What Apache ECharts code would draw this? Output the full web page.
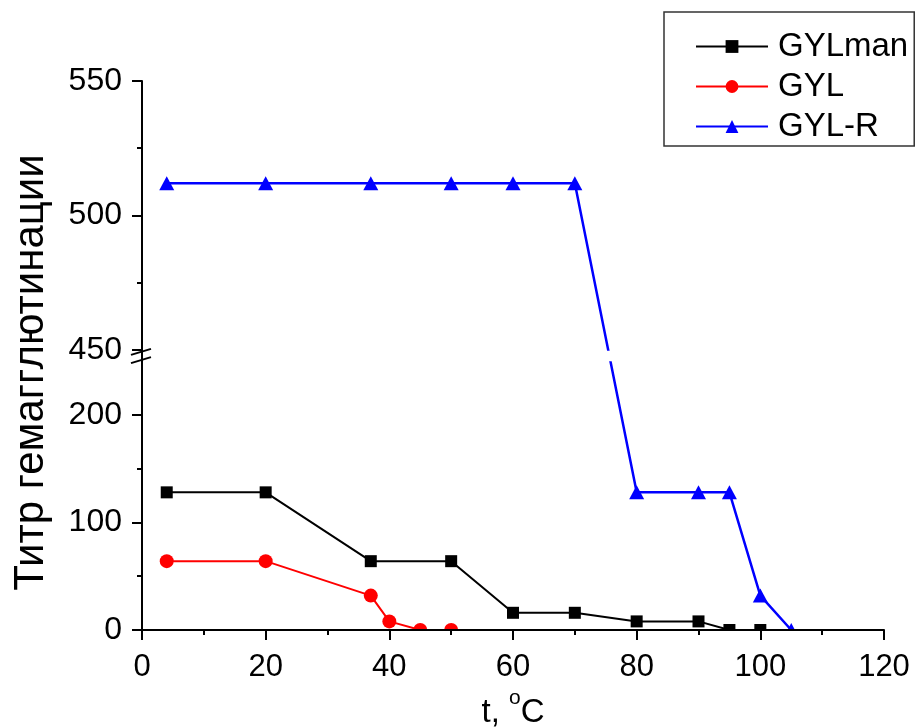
<!DOCTYPE html>
<html>
<head>
<meta charset="utf-8">
<script src="https://cdn.jsdelivr.net/npm/echarts@6/dist/echarts.min.js"></script>
<style>
html, body { margin: 0; padding: 0; background: #fff; }
#chart { width: 915px; height: 728px; }
</style>
</head>
<body>
<div id="chart"></div>
<script>
// Temperature (°C) and haemagglutination titre for each preparation
const gylmanTemp  = [4, 20, 37, 50, 60, 70, 80, 90, 95, 100];
const gylmanTiter = [128, 128, 64, 64, 16, 16, 8, 8, 0, 0];

const gylTemp  = [4, 20, 37, 40, 45, 50];
const gylTiter = [64, 64, 32, 8, 0, 0];

const gylrTemp  = [4, 20, 37, 50, 60, 70, 80, 90, 95, 100, 105];
const gylrTiter = [512, 512, 512, 512, 512, 512, 128, 128, 128, 32, 0];

const seriesNames = ['GYLman', 'GYL', 'GYL-R'];

// Axis ticks
const xMin = 0, xMax = 120, xStep = 20;
const yMajorTicks = [0, 100, 200, 450, 500, 550];
const yMinorTicks = [50, 150, 475, 525];

// Broken y axis: 0..250 on the lower part, 450..550 stretched on the upper part
const LOWER_MAX = 250;
const UPPER_MIN = 450;
const UPPER_MAX = 550;
const UPPER_STRETCH = 2.5;
const BREAK_GAP = 10.5;

function toAxis(v) {
  if (v <= LOWER_MAX) return v;
  return LOWER_MAX + BREAK_GAP + (v - UPPER_MIN) * UPPER_STRETCH;
}
function fromAxis(u) {
  if (u <= LOWER_MAX + 1e-6) return u;
  return UPPER_MIN + (u - LOWER_MAX - BREAK_GAP) / UPPER_STRETCH;
}

function pairs(xs, ys) {
  return xs.map((x, i) => [x, toAxis(ys[i]), ys[i]]);
}

const FONT = "'Liberation Sans', Arial, sans-serif";
const FS = 31;

const chart = echarts.init(document.getElementById('chart'), null, { renderer: 'canvas' });

const yBase = {
  type: 'value',
  position: 'left',
  min: 0,
  max: toAxis(UPPER_MAX),
  splitLine: { show: false },
  axisLine: { show: false }
};

chart.setOption({
  animation: false,
  backgroundColor: '#fff',
  textStyle: { fontFamily: FONT },
  grid: { left: 142, right: 31, top: 81, bottom: 98, containLabel: false, outerBoundsMode: 'none' },
  legend: {
    data: seriesNames,
    orient: 'vertical',
    left: 664,
    top: 12,
    padding: [18, 6, 3, 31],
    itemWidth: 72,
    itemHeight: 16,
    itemGap: 7,
    borderColor: '#333',
    borderWidth: 1.5,
    borderRadius: 0,
    textStyle: { fontFamily: FONT, fontSize: 33, color: '#000', lineHeight: 33, padding: [0, 0, 0, 5] }
  },
  xAxis: {
    type: 'value',
    min: xMin,
    max: xMax,
    interval: xStep,
    z: 50,
    name: 't, {sup|o}C',
    nameLocation: 'middle',
    nameGap: 57,
    nameTextStyle: {
      fontFamily: FONT, fontSize: 33, color: '#000', verticalAlign: 'top', lineHeight: 33,
      rich: { sup: { fontFamily: FONT, fontSize: 21, color: '#000', lineHeight: 21, padding: [0, 0, 30, 0] } }
    },
    axisLine: { show: true, onZero: false, lineStyle: { color: '#000', width: 2 } },
    axisTick: { show: true, inside: false, length: 10, lineStyle: { color: '#000', width: 2 } },
    minorTick: { show: true, splitNumber: 2, length: 5, lineStyle: { color: '#000', width: 2 } },
    axisLabel: { fontFamily: FONT, fontSize: FS, color: '#000', margin: 22 },
    splitLine: { show: false },
    minorSplitLine: { show: false }
  },
  yAxis: [
    Object.assign({}, yBase, {
      name: 'Титр гемагглютинации',
      nameLocation: 'middle',
      nameGap: 90,
      nameTextStyle: { fontFamily: FONT, fontSize: 42, color: '#000', padding: [0, 34, 0, 0] },
      axisLine: { show: true, onZero: false, lineStyle: { color: '#000', width: 2 } },
      axisTick: {
        show: true, inside: false, length: 10,
        customValues: yMajorTicks.map(toAxis),
        lineStyle: { color: '#000', width: 2 }
      },
      axisLabel: {
        fontFamily: FONT, fontSize: 32, color: '#000', margin: 20,
        customValues: yMajorTicks.map(toAxis),
        formatter: (u) => String(Math.round(fromAxis(u)))
      }
    }),
    Object.assign({}, yBase, {
      axisTick: {
        show: true, inside: false, length: 5,
        customValues: yMinorTicks.map(toAxis),
        lineStyle: { color: '#000', width: 2 }
      },
      axisLabel: { show: false }
    })
  ],
  series: [
    {
      name: seriesNames[0], type: 'line', yAxisIndex: 0,
      data: pairs(gylmanTemp, gylmanTiter), encode: { x: 0, y: 1 },
      symbol: 'rect', symbolSize: 12,
      lineStyle: { color: '#000', width: 2 },
      itemStyle: { color: '#000' },
      z: 4
    },
    {
      name: seriesNames[1], type: 'line', yAxisIndex: 0,
      data: pairs(gylTemp, gylTiter), encode: { x: 0, y: 1 },
      symbol: 'circle', symbolSize: 14,
      lineStyle: { color: '#ff0000', width: 2 },
      itemStyle: { color: '#ff0000' },
      z: 3
    },
    {
      name: seriesNames[2], type: 'line', yAxisIndex: 0,
      data: pairs(gylrTemp, gylrTiter), encode: { x: 0, y: 1 },
      symbol: 'triangle', symbolSize: [15, 14],
      lineStyle: { color: '#0000ff', width: 2.5 },
      itemStyle: { color: '#0000ff' },
      z: 2
    }
  ]
});

// Axis break: blank band across the plot and the double-slash mark on the axis;
// a white strip under the x axis trims markers that sit on zero
const axisX = chart.convertToPixel({ xAxisIndex: 0 }, xMin);
const rightX = chart.convertToPixel({ xAxisIndex: 0 }, xMax);
const zeroY = chart.convertToPixel({ yAxisIndex: 0 }, 0);
const breakTop = chart.convertToPixel({ yAxisIndex: 0 }, toAxis(UPPER_MIN));
const breakBottom = chart.convertToPixel({ yAxisIndex: 0 }, LOWER_MAX);

function slash(y) {
  return {
    type: 'line', z: 101, silent: true,
    shape: { x1: axisX - 11, y1: y + 3, x2: axisX + 9, y2: y - 3 },
    style: { stroke: '#000', lineWidth: 2 }
  };
}

chart.setOption({
  graphic: [
    {
      type: 'rect', z: 100, silent: true,
      shape: { x: axisX + 2, y: breakTop + 1, width: rightX - axisX, height: breakBottom - breakTop - 1 },
      style: { fill: '#fff' }
    },
    {
      type: 'rect', z: 40, silent: true,
      shape: { x: axisX + 2, y: zeroY + 1, width: rightX - axisX, height: 14 },
      style: { fill: '#fff' }
    },
    slash(breakTop + 2),
    slash(breakBottom - 1)
  ]
});
</script>
</body>
</html>
